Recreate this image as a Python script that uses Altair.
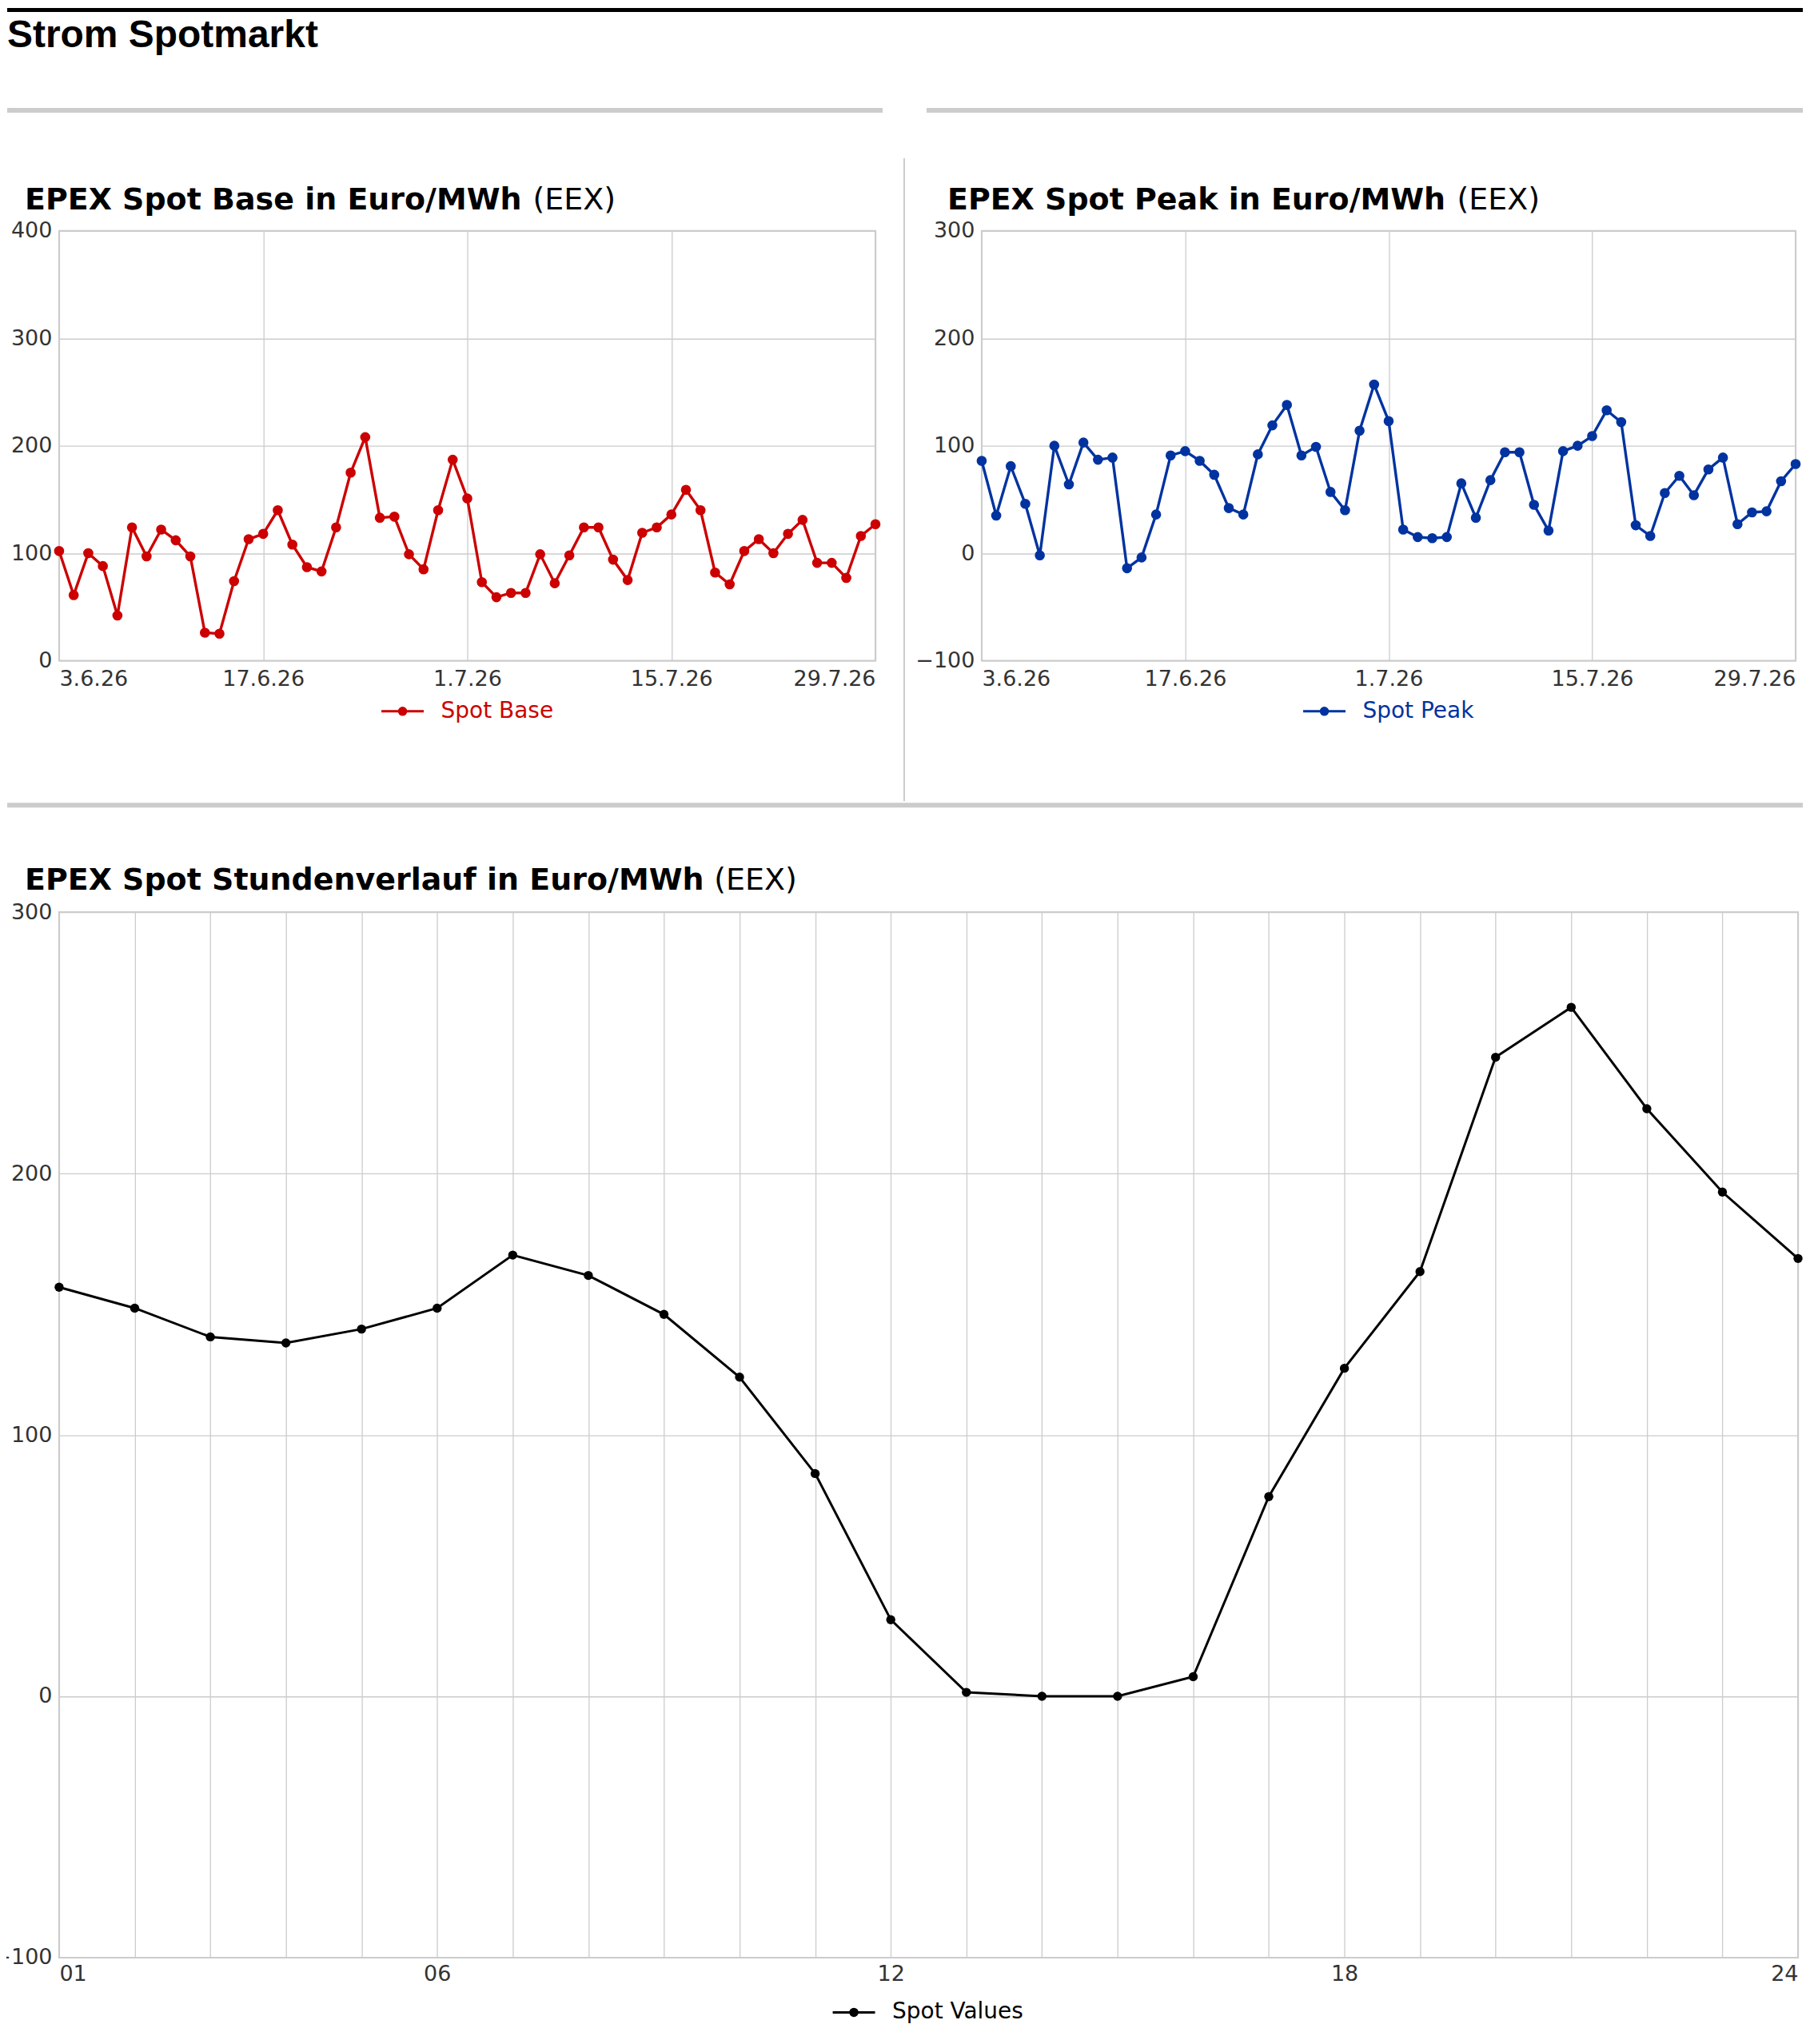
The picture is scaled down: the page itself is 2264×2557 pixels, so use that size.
import altair as alt
import pandas as pd

# ---------------- data ----------------
dates = [d.strftime("%Y-%m-%d") for d in pd.date_range("2026-06-03", "2026-07-29", freq="D")]
base_values = [102, 61, 100, 88, 42, 124, 97, 122, 112, 97, 26, 25, 74, 113, 118, 140, 108, 87, 83, 124,
               175, 208, 133, 134, 99, 85, 140, 187, 151, 73, 59, 63, 63, 99, 72, 98, 124, 124, 94, 75,
               119, 124, 136, 159, 140, 82, 71, 102, 113, 100, 118, 131, 91, 91, 77, 116, 127]
peak_values = [86, 35, 81, 46, -2, 100, 64, 103, 87, 89, -14, -4, 36, 91, 95, 86, 73, 42, 36, 92,
               119, 138, 91, 99, 57, 40, 114, 157, 123, 22, 15, 14, 15, 65, 33, 68, 94, 94, 45, 21,
               95, 100, 109, 133, 122, 26, 16, 56, 72, 54, 78, 89, 27, 38, 39, 67, 83]
hours = list(range(1, 25))
hour_values = [156.5, 148.5, 137.5, 135.2, 140.5, 148.5, 168.8, 161.0, 146.1, 122.1, 85.2, 29.3,
               1.5, 0.0, 0.0, 7.5, 76.4, 125.5, 162.5, 244.5, 263.6, 224.8, 192.9, 167.5]
date_ticks = [(2026, 6, 3), (2026, 6, 17), (2026, 7, 1), (2026, 7, 15), (2026, 7, 29)]
hour_label_ticks = [1, 6, 12, 18, 24]
base_y_ticks = [0, 100, 200, 300, 400]
peak_y_ticks = [-100, 0, 100, 200, 300]
hour_y_ticks = [-100, 0, 100, 200, 300]

main_title = "Strom Spotmarkt"
source = "(EEX)"
base_title = "EPEX Spot Base in Euro/MWh"
peak_title = "EPEX Spot Peak in Euro/MWh"
hour_title = "EPEX Spot Stundenverlauf in Euro/MWh"
base_name, peak_name, hour_name = "Spot Base", "Spot Peak", "Spot Values"

RED, BLUE, BLACK = "#cc0000", "#0033a0", "#000000"
GRID = "#cccccc"
FONT = "DejaVu Sans"
SYM = "M-1,0L1,0M-0.16,0A0.16,0.16,0,1,1,0.16,0A0.16,0.16,0,1,1,-0.16,0Z"


def legend(color, lx, ly):
    return alt.Legend(title=None, orient="none", legendX=lx, legendY=ly, padding=0,
                      symbolType=SYM, symbolSize=2809, symbolStrokeWidth=3,
                      symbolFillColor=color, labelColor=color, labelFont=FONT,
                      labelFontSize=28, labelOffset=20, labelLimit=800)


def text_layer(txt, x, y, size, weight, font=FONT):
    return alt.Chart(pd.DataFrame({"t": [txt]})).mark_text(
        align="left", baseline="alphabetic", font=font, fontSize=size,
        fontWeight=weight, color="#000000"
    ).encode(x=alt.value(x), y=alt.value(y), text="t:N")


def box(x1, x2, y1, y2, c):
    return alt.Chart(pd.DataFrame({"r": [0]})).mark_rect(color=c).encode(
        x=alt.value(x1), x2=alt.value(x2), y=alt.value(y1), y2=alt.value(y2))


def date_axis():
    return alt.Axis(values=[alt.DateTime(year=y, month=m, date=d, utc=True) for (y, m, d) in date_ticks],
                    format="%-d.%-m.%y", labelFlush=True, labelPadding=10, title=None)


def series_chart(df, x, y_ticks, color, name, width, height, lx, ly, psize, lw):
    return alt.Chart(df).mark_line(strokeWidth=lw, point=alt.OverlayMarkDef(filled=True, size=psize)).encode(
        x=x,
        y=alt.Y("value:Q", scale=alt.Scale(domain=[y_ticks[0], y_ticks[-1]], nice=False, zero=False),
                axis=alt.Axis(values=y_ticks, labelFlush=False, title=None)),
        color=alt.Color("series:N", scale=alt.Scale(domain=[name], range=[color]), legend=legend(color, lx, ly)),
    ).properties(width=width, height=height)


# ---------------- base (top-left) ----------------
base_df = pd.DataFrame({"date": dates, "value": base_values, "series": base_name})
base_line = series_chart(
    base_df, alt.X("date:T", scale=alt.Scale(type="utc", nice=False), axis=date_axis()),
    base_y_ticks, RED, base_name, 1022, 538, 402, 573.5, 160, 3.4)
base_chart = alt.layer(
    base_line,
    text_layer(base_title, -43, -27, 38, "bold"),
    text_layer(source, 593, -27, 38, "normal"),
    # page decorations (header bar, title, separators)
    box(-65, 2183, -279, -274, "#000000"),
    text_layer(main_title, -65, -230, 48, "bold", font="Liberation Sans"),
    box(-65, 1031, -154, -148, GRID),
    box(1086, 2183, -154, -148, GRID),
    box(1057, 1059, -91, 714, GRID),
)

# ---------------- peak (top-right) ----------------
peak_df = pd.DataFrame({"date": dates, "value": peak_values, "series": peak_name})
peak_line = series_chart(
    peak_df, alt.X("date:T", scale=alt.Scale(type="utc", nice=False), axis=date_axis()),
    peak_y_ticks, BLUE, peak_name, 1019, 538, 401, 573.5, 160, 3.4)
peak_chart = alt.layer(
    peak_line,
    text_layer(peak_title, -43, -27, 38, "bold"),
    text_layer(source, 595, -27, 38, "normal"),
)

# ---------------- hourly (bottom) ----------------
label_list = "[" + ",".join(str(h) for h in hour_label_ticks) + "]"
hour_df = pd.DataFrame({"hour": hours, "value": hour_values, "series": hour_name})
hour_line = series_chart(
    hour_df,
    alt.X("hour:Q", scale=alt.Scale(domain=[hours[0], hours[-1]], nice=False, zero=False),
          axis=alt.Axis(values=hours, labelFlush=True, labelOverlap=False, labelPadding=8, title=None,
                        labelExpr="indexof(" + label_list + ", datum.value) >= 0 ? (datum.value < 10 ? '0' + datum.value : '' + datum.value) : ''")),
    hour_y_ticks, BLACK, hour_name, 2177, 1309, 967, 1349.5, 130, 3.0)
hour_chart = alt.layer(
    hour_line,
    box(-65, 2183, -137, -131, GRID),
    text_layer(hour_title, -43, -28, 38, "bold"),
    text_layer(source, 820, -28, 38, "normal"),
)

top_row = alt.hconcat(base_chart, peak_chart, spacing=133, bounds="flush").resolve_scale(
    color="independent").resolve_legend(color="independent")

chart = alt.vconcat(top_row, hour_chart, spacing=0).resolve_scale(
    color="independent").resolve_legend(color="independent").properties(
    padding={"left": -19, "top": 0, "right": 0, "bottom": 0}
).configure_view(
    stroke=GRID, strokeWidth=2
).configure_axis(
    domain=False, ticks=False, grid=True, gridColor=GRID, gridWidth=1.3,
    labelFont=FONT, labelFontSize=27, labelColor="#333333", labelPadding=9,
)

chart.save("out.html", embed_options={"renderer": "svg", "actions": False})
